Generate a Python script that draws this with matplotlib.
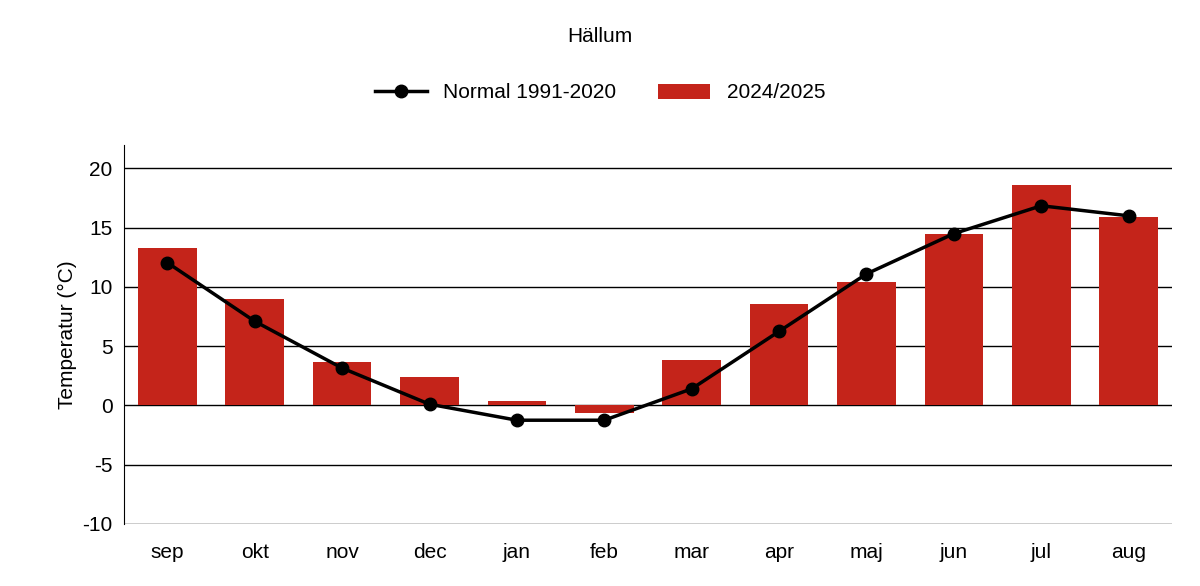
import matplotlib
matplotlib.use("Agg")
import matplotlib.pyplot as plt

months = ["sep","okt","nov","dec","jan","feb","mar","apr","maj","jun","jul","aug"]
temp_2425 = [13.3, 9.0, 3.7, 2.4, 0.35, -0.6, 3.8, 8.6, 10.4, 14.5, 18.6, 15.9]
normal = [12.05, 7.1, 3.15, 0.1, -1.25, -1.25, 1.4, 6.25, 11.1, 14.5, 16.85, 16.0]

plt.rcParams['font.family'] = ['Liberation Sans', 'DejaVu Sans']
fig = plt.figure(figsize=(12, 5.86), dpi=100)
ax = fig.add_axes([0.103, 0.106, 0.874, 0.647])
x = range(len(months))
ax.bar(x, temp_2425, width=0.67, color='#c4241a', label='2024/2025', zorder=2)
ax.plot(x, normal, color='black', lw=2.5, marker='o', ms=9, label='Normal 1991-2020', zorder=3)
ax.set_ylim(-10, 22)
ax.set_xlim(-0.5, 11.5)
ax.set_yticks(range(-10, 21, 5))
ax.set_yticklabels([str(v) for v in range(-10, 21, 5)])
ax.set_xticks(list(x))
ax.set_xticklabels(months)
ax.yaxis.grid(True, color='black', lw=1, zorder=0)
for s in ['top', 'right', 'bottom']:
    ax.spines[s].set_visible(False)
ax.spines['left'].set_color('black')
ax.tick_params(axis='both', labelsize=15, length=0, pad=8)
ax.tick_params(axis='x', pad=14)
ax.set_ylabel('Temperatur (°C)', fontsize=15)
fig.text(0.5, 1 - 37/586, 'Hällum', ha='center', va='center', fontsize=15)
fig.legend(loc='center', bbox_to_anchor=(0.5, 1 - 93/586), ncol=2, frameon=False,
           fontsize=15, handlelength=2.5, columnspacing=2)
fig.savefig('out.png', dpi=100)
